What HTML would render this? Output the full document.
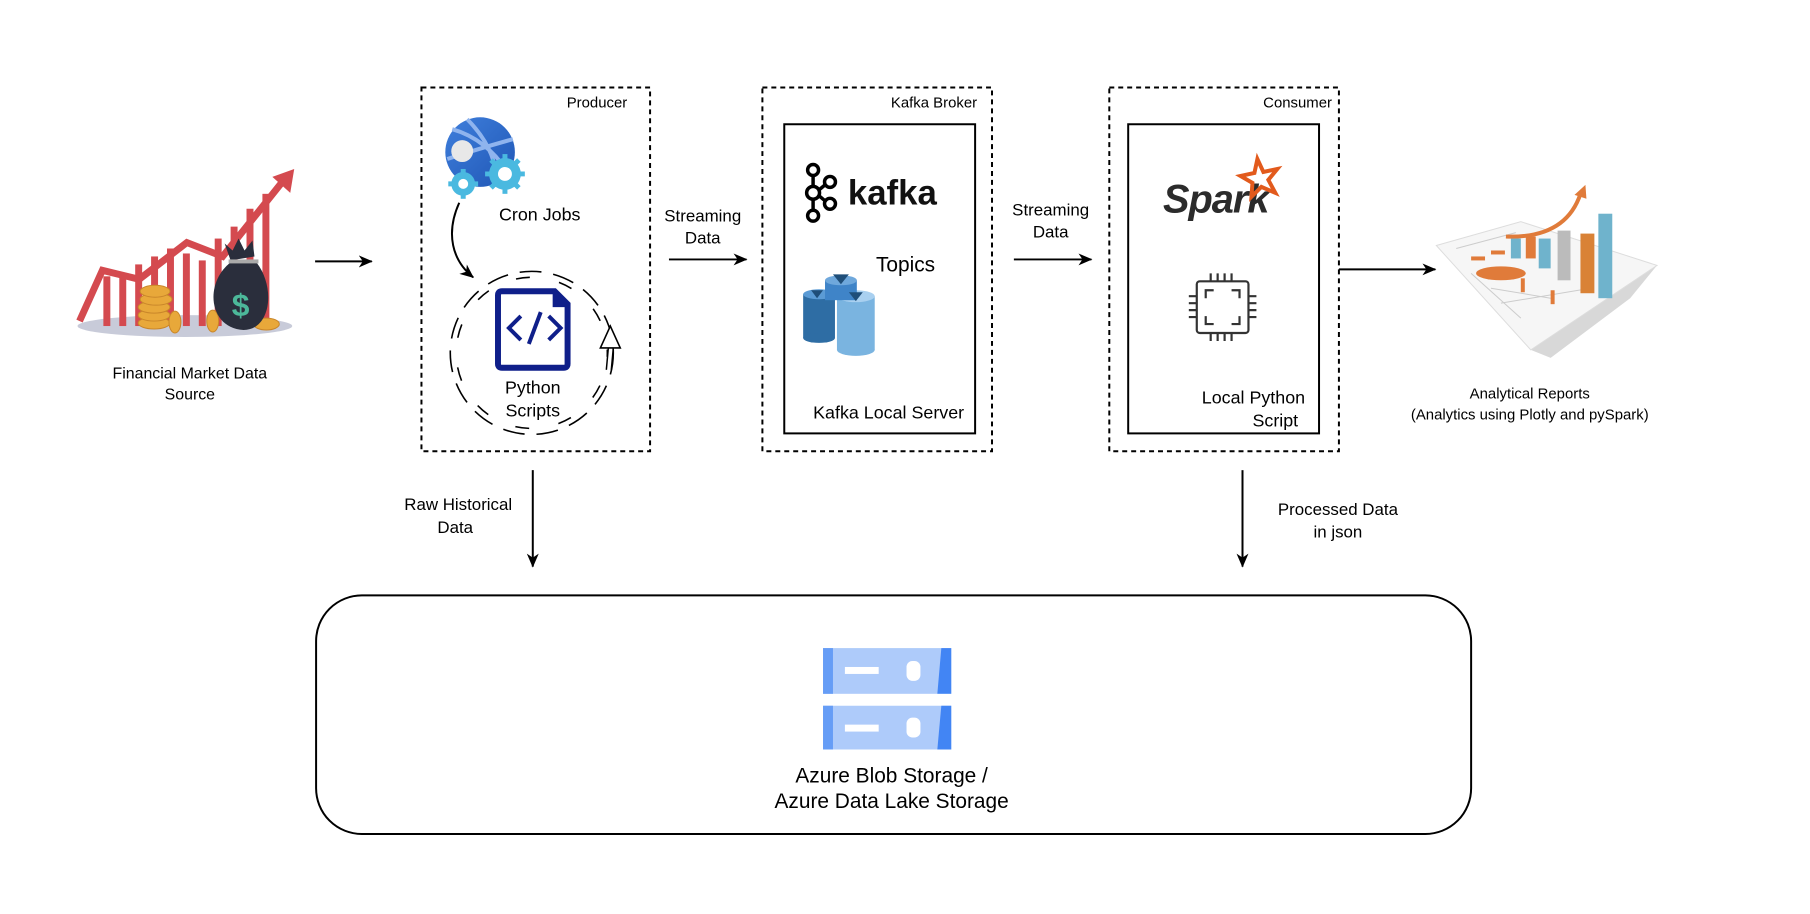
<!DOCTYPE html>
<html><head><meta charset="utf-8"><style>
html,body{margin:0;padding:0;background:#fff;}
svg{display:block;}
text{font-family:"Liberation Sans",Arial,sans-serif;fill:#000;}
</style></head><body>
<svg width="1810" height="914" viewBox="0 0 1810 914" xmlns="http://www.w3.org/2000/svg">
<defs>
<marker id="ah" markerWidth="14" markerHeight="14" refX="13" refY="7" orient="auto" markerUnits="userSpaceOnUse">
<path d="M0,1 L14,7 L0,13 L4,7 Z" fill="#000"/></marker>
<linearGradient id="glb" x1="0" y1="0" x2="1" y2="1"><stop offset="0" stop-color="#3f7fdc"/><stop offset="1" stop-color="#1f56b5"/></linearGradient>
</defs>
<g transform="scale(0.994)">
<!-- Financial chart icon -->
<ellipse cx="186" cy="328" rx="108" ry="11" fill="#c8cbd9"/>
<g fill="#d44a4f">
<rect x="104" y="278" width="7" height="50"/><rect x="120" y="275" width="7" height="53"/><rect x="136" y="266" width="7" height="62"/>
<rect x="152" y="258" width="7" height="70"/><rect x="168" y="250" width="7" height="78"/><rect x="184" y="255" width="7" height="73"/>
<rect x="200" y="262" width="7" height="66"/><rect x="216" y="240" width="7" height="88"/><rect x="232" y="228" width="7" height="100"/>
<rect x="248" y="210" width="7" height="118"/><rect x="264" y="195" width="7" height="133"/>
</g>
<polyline points="80,323 103,272 140,281 188,244 224,258 288,178" fill="none" stroke="#d44a4f" stroke-width="7" stroke-linejoin="miter"/>
<polygon points="296,170 274,178 292,194" fill="#d44a4f"/>
<g fill="#e8a83a" stroke="#c9862a" stroke-width="1">
<ellipse cx="155" cy="325" rx="16" ry="6"/><ellipse cx="155" cy="317" rx="16" ry="6"/><ellipse cx="155" cy="309" rx="16" ry="6"/>
<ellipse cx="157" cy="301" rx="16" ry="6"/><ellipse cx="156" cy="293" rx="15" ry="6"/>
<ellipse cx="176" cy="324" rx="6" ry="11"/><ellipse cx="214" cy="323" rx="6" ry="11"/><ellipse cx="268" cy="326" rx="13" ry="6"/>
</g>
<path d="M232,262 L226,245 L234,252 L240,240 L246,252 L254,242 L256,258 Z" fill="#2a2e3c"/>
<path d="M232,264 C205,285 210,330 245,332 C272,332 278,290 258,264 Z" fill="#2a2e3c"/>
<rect x="230" y="261" width="30" height="4" fill="#aaa"/>
<text x="242" y="318" font-size="32" font-weight="bold" text-anchor="middle" style="fill:#4cb89a">$</text>
<text x="191" y="381" font-size="16" text-anchor="middle">Financial Market Data</text>
<text x="191" y="402" font-size="16" text-anchor="middle">Source</text>

<line x1="317" y1="263" x2="374" y2="263" stroke="#000" stroke-width="2" marker-end="url(#ah)"/>

<!-- Producer -->
<rect x="424" y="88" width="230" height="366" fill="none" stroke="#000" stroke-width="2" stroke-dasharray="5,4"/>
<text x="631" y="108" font-size="15" text-anchor="end">Producer</text>
<circle cx="483" cy="153" r="35" fill="url(#glb)"/>
<path d="M455,130 Q490,140 512,175 M470,120 Q500,150 500,186 M450,160 Q480,150 516,140" stroke="#8fb4ee" stroke-width="4" fill="none"/>
<circle cx="465" cy="152" r="11" fill="#e8e8e8"/>
<g fill="#4ab9e0"><circle cx="508" cy="175" r="16"/><circle cx="466" cy="185" r="12"/></g>
<g stroke="#4ab9e0" stroke-width="5"><line x1="508" y1="155" x2="508" y2="195"/><line x1="488" y1="175" x2="528" y2="175"/><line x1="494" y1="161" x2="522" y2="189"/><line x1="522" y1="161" x2="494" y2="189"/>
<line x1="466" y1="170" x2="466" y2="200"/><line x1="451" y1="185" x2="481" y2="185"/></g>
<g fill="#fff"><circle cx="508" cy="175" r="7"/><circle cx="466" cy="185" r="5"/></g>
<text x="543" y="222" font-size="18" text-anchor="middle">Cron Jobs</text>
<path d="M462,204 C448,235 455,262 476,279" fill="none" stroke="#000" stroke-width="2" marker-end="url(#ah)"/>
<circle cx="535" cy="355" r="82" fill="none" stroke="#000" stroke-width="1.6" stroke-dasharray="22,12"/>
<circle cx="535" cy="355" r="76" fill="none" stroke="#000" stroke-width="1.6" stroke-dasharray="14,30" stroke-dashoffset="10"/>
<path d="M614,328 L604,350 L624,350 Z" fill="#fff" stroke="#000" stroke-width="1.6"/>
<line x1="612" y1="350" x2="610" y2="372" stroke="#000" stroke-width="1.5"/><line x1="617" y1="350" x2="615" y2="372" stroke="#000" stroke-width="1.5"/>
<path d="M505,293 L558,293 L571,306 L571,366 Q571,370 567,370 L505,370 Q501,370 501,366 L501,297 Q501,293 505,293 Z" fill="#fff" stroke="#0f1f8a" stroke-width="6"/>
<polygon points="556,291 574,309 556,309" fill="#0f1f8a"/>
<path d="M524,318 L512,330 L524,342 M552,318 L564,330 L552,342 M544,314 L532,346" fill="none" stroke="#0f1f8a" stroke-width="4"/>
<text x="536" y="396" font-size="18" text-anchor="middle">Python</text>
<text x="536" y="419" font-size="18" text-anchor="middle">Scripts</text>

<text x="707" y="223" font-size="17" text-anchor="middle">Streaming</text>
<text x="707" y="245" font-size="17" text-anchor="middle">Data</text>
<line x1="673" y1="261" x2="751" y2="261" stroke="#000" stroke-width="2" marker-end="url(#ah)"/>

<!-- Kafka -->
<rect x="767" y="88" width="231" height="366" fill="none" stroke="#000" stroke-width="2" stroke-dasharray="5,4"/>
<text x="983" y="108" font-size="15" text-anchor="end">Kafka Broker</text>
<rect x="789" y="125" width="192" height="311" fill="none" stroke="#000" stroke-width="2"/>
<g fill="none" stroke="#000" stroke-width="3.5">
<circle cx="818" cy="171" r="5.5"/><circle cx="818" cy="217" r="5.5"/><circle cx="818" cy="194" r="6.5"/>
<circle cx="835" cy="183" r="5.5"/><circle cx="835" cy="205" r="5.5"/>
<line x1="818" y1="177" x2="818" y2="188"/><line x1="818" y1="200" x2="818" y2="211"/>
<line x1="824" y1="191" x2="830" y2="186"/><line x1="824" y1="197" x2="830" y2="202"/></g>
<text x="853" y="206" font-size="35" font-weight="bold" style="fill:#111">kafka</text>
<text x="911" y="273" font-size="21" text-anchor="middle">Topics</text>
<g>
<rect x="808" y="296" width="32" height="44" fill="#2e6da4"/><ellipse cx="824" cy="296" rx="16" ry="5" fill="#5b9bd5"/><ellipse cx="824" cy="340" rx="16" ry="5" fill="#2e6da4"/>
<rect x="842" y="298" width="38" height="54" fill="#7ab4e0"/><ellipse cx="861" cy="298" rx="19" ry="6" fill="#a9d0f0"/><ellipse cx="861" cy="352" rx="19" ry="6" fill="#7ab4e0"/>
<rect x="830" y="282" width="32" height="20" fill="#3f84c8"/><ellipse cx="846" cy="282" rx="16" ry="5" fill="#6fa8dc"/>
<polygon points="838,276 854,276 846,286" fill="#1f4e79"/><polygon points="816,292 828,292 822,300" fill="#1f4e79"/><polygon points="854,294 868,294 861,303" fill="#1f4e79"/>
</g>
<text x="894" y="421" font-size="18" text-anchor="middle">Kafka Local Server</text>

<text x="1057" y="217" font-size="17" text-anchor="middle">Streaming</text>
<text x="1057" y="239" font-size="17" text-anchor="middle">Data</text>
<line x1="1020" y1="261" x2="1098" y2="261" stroke="#000" stroke-width="2" marker-end="url(#ah)"/>

<!-- Consumer -->
<rect x="1116" y="88" width="231" height="366" fill="none" stroke="#000" stroke-width="2" stroke-dasharray="5,4"/>
<text x="1340" y="108" font-size="15" text-anchor="end">Consumer</text>
<rect x="1135" y="125" width="192" height="311" fill="none" stroke="#000" stroke-width="2"/>
<text x="1170" y="214" font-size="40" font-weight="bold" font-style="italic" style="fill:#2b2b2b" letter-spacing="-1">Spark</text>
<polygon points="1265,160 1271,173 1285,170 1276,181 1283,194 1269,188 1259,198 1260,184 1248,177 1262,174" fill="none" stroke="#e25a1c" stroke-width="4"/>
<g fill="none" stroke="#333" stroke-width="2.2">
<rect x="1204" y="283" width="52" height="52" rx="3"/>
<path d="M1213,300 V292 H1221 M1239,292 H1247 V300 M1247,318 V326 H1239 M1221,326 H1213 V318"/>
<path d="M1218,283 V275 M1225,283 V275 M1232,283 V275 M1239,283 V275 M1218,335 V343 M1225,335 V343 M1232,335 V343 M1239,335 V343 M1204,298 H1196 M1204,305 H1196 M1204,312 H1196 M1204,319 H1196 M1256,298 H1264 M1256,305 H1264 M1256,312 H1264 M1256,319 H1264"/>
</g>
<text x="1313" y="406" font-size="18" text-anchor="end">Local Python</text>
<text x="1306" y="429" font-size="18" text-anchor="end">Script</text>

<line x1="1347" y1="271" x2="1444" y2="271" stroke="#000" stroke-width="2" marker-end="url(#ah)"/>

<!-- Reports icon -->
<polygon points="1540,352 1667,267 1640,300 1560,360" fill="#d8d8d8"/>
<polygon points="1445,247 1530,223 1667,267 1540,352" fill="#f6f6f6" stroke="#ddd"/>
<g stroke="#ccc" stroke-width="1"><line x1="1465" y1="250" x2="1525" y2="234"/><line x1="1480" y1="275" x2="1530" y2="320"/><line x1="1500" y1="290" x2="1560" y2="300"/><line x1="1510" y1="305" x2="1600" y2="290"/></g>
<g fill="#e07b3a"><rect x="1480" y="258" width="14" height="4"/><rect x="1500" y="252" width="14" height="4"/><rect x="1530" y="280" width="4" height="14"/><rect x="1560" y="292" width="4" height="14"/><ellipse cx="1510" cy="275" rx="25" ry="7"/></g>
<g fill="#6fb3cc"><rect x="1520" y="240" width="10" height="20"/><rect x="1548" y="240" width="12" height="30"/><rect x="1590" y="235" width="14" height="60" fill="#d98236"/><rect x="1608" y="215" width="14" height="85"/><rect x="1567" y="232" width="13" height="50" fill="#bbb"/><rect x="1535" y="238" width="10" height="22" fill="#e07b3a"/></g>
<path d="M1515,238 Q1575,240 1590,195" fill="none" stroke="#e07b3a" stroke-width="4"/>
<polygon points="1584,196 1595,186 1596,200" fill="#e07b3a"/>
<text x="1539" y="401" font-size="15" text-anchor="middle">Analytical Reports</text>
<text x="1539" y="422" font-size="15" text-anchor="middle">(Analytics using Plotly and pySpark)</text>

<line x1="536" y1="473" x2="536" y2="570" stroke="#000" stroke-width="2" marker-end="url(#ah)"/>
<text x="461" y="513" font-size="17" text-anchor="middle">Raw Historical</text>
<text x="458" y="536" font-size="17" text-anchor="middle">Data</text>
<line x1="1250" y1="473" x2="1250" y2="570" stroke="#000" stroke-width="2" marker-end="url(#ah)"/>
<text x="1346" y="518" font-size="17" text-anchor="middle">Processed Data</text>
<text x="1346" y="541" font-size="17" text-anchor="middle">in json</text>

<rect x="318" y="599" width="1162" height="240" rx="46" ry="46" fill="none" stroke="#000" stroke-width="2"/>
<g>
<rect x="828" y="652" width="129" height="46" fill="#aecbfa"/><rect x="828" y="652" width="10" height="46" fill="#669df6"/><polygon points="947,652 957,652 957,698 943,698" fill="#4285f4"/>
<rect x="850" y="671" width="34" height="7" fill="#fff"/><rect x="912" y="665" width="14" height="20" rx="6" fill="#fff"/>
<rect x="828" y="710" width="129" height="44" fill="#aecbfa"/><rect x="828" y="710" width="10" height="44" fill="#669df6"/><polygon points="947,710 957,710 957,754 943,754" fill="#4285f4"/>
<rect x="850" y="729" width="34" height="7" fill="#fff"/><rect x="912" y="722" width="14" height="20" rx="6" fill="#fff"/>
</g>
<text x="897" y="787" font-size="21" text-anchor="middle">Azure Blob Storage /</text>
<text x="897" y="813" font-size="21" text-anchor="middle">Azure Data Lake Storage</text>
</g>
</svg>
</body></html>
